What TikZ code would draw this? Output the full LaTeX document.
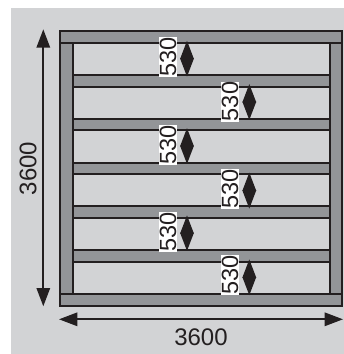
\documentclass[tikz,border=0pt]{standalone}
\usepackage{fontspec}
\setmainfont{Liberation Sans}
\usetikzlibrary{arrows.meta}
\definecolor{bgc}{HTML}{D2D3D5}
\definecolor{beamc}{HTML}{939598}
\definecolor{inkc}{HTML}{231F20}
\tikzset{
  beam/.style={fill=beamc,draw=inkc,line width=2pt},
  barline/.style={draw=inkc,line width=2pt},
  dimarrow/.style={draw=inkc,fill=inkc,line width=1.8pt,{Triangle[length=18.3pt,width=13.4pt,sep=0pt]}-{Triangle[length=18.3pt,width=13.4pt,sep=0pt]}},
  gaplabel/.style={fill=white,text=inkc,rotate=90,inner sep=0pt,minimum width=40pt,minimum height=18pt,font=\fontsize{23.5}{23.5}\selectfont},
  totallabel/.style={text=inkc,inner sep=0pt,font=\fontsize{24}{24}\selectfont}
}
\begin{document}
\begin{tikzpicture}[x=1pt,y=-1pt]
\useasboundingbox (0,0) rectangle (344,354);
\fill[bgc] (10.5,8) rectangle (344,354);
% horizontal bars
\foreach \t in {75,118.5,162.5,206,250}{
  \fill[beamc] (72,\t) rectangle (329,\t+11.5);
  \draw[barline] (72,\t) -- (329,\t);
  \draw[barline] (72,\t+11.5) -- (329,\t+11.5);
}
% posts and beams
\draw[beam] (60,43) rectangle (72.5,293.5);
\draw[beam] (329.5,43) rectangle (342,293.5);
\draw[beam] (60,31) rectangle (342,43);
\draw[beam] (60,293.5) rectangle (342,305.5);
% gap labels
\node[gaplabel] (g1) at (168,57.3) {530};
\node[gaplabel] (g2) at (230,101.5) {530};
\node[gaplabel] (g3) at (168,145.2) {530};
\node[gaplabel] (g4) at (230,189) {530};
\node[gaplabel] (g5) at (168,232.2) {530};
\node[gaplabel] (g6) at (230,275.3) {530};
% gap arrows
\coordinate (a1) at (187,40.7);   \coordinate (b1) at (187,76.7);
\coordinate (a2) at (249.3,84);   \coordinate (b2) at (249.3,120);
\coordinate (a3) at (187,128);    \coordinate (b3) at (187,164);
\coordinate (a4) at (249.3,172.5);\coordinate (b4) at (249.3,208.7);
\coordinate (a5) at (187,215.3);  \coordinate (b5) at (187,251);
\coordinate (a6) at (249.3,259.3);\coordinate (b6) at (249.3,295.3);
\foreach \i in {1,...,6}{\draw[dimarrow] (a\i) -- (b\i);}
% overall dimensions
\coordinate (vt) at (43.3,29.3); \coordinate (vb) at (43.3,306.3);
\coordinate (hl) at (59,319.3);  \coordinate (hr) at (343,319.3);
\draw[dimarrow] (vt) -- (vb);
\draw[dimarrow] (hl) -- (hr);
\node[totallabel,rotate=90] (tv) at (28,168.5) {3600};
\node[totallabel] (th) at (201,337) {3600};
\end{tikzpicture}
\end{document}
